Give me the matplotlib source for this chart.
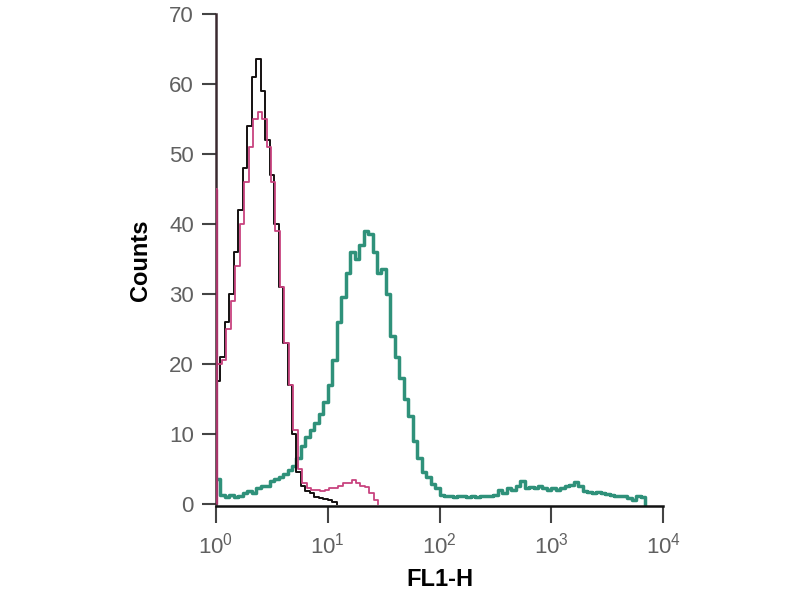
import matplotlib
matplotlib.use("Agg")
import matplotlib.pyplot as plt
import numpy as np

plt.rcParams['font.family'] = ['Liberation Sans', 'DejaVu Sans']
plt.rcParams['mathtext.fontset'] = 'custom'
plt.rcParams['mathtext.rm'] = 'Liberation Sans'

# histogram channels, in decades (log10 of FL1-H)
channel_step = 0.04
decades = [0, 1, 2, 3, 4]
count_ticks = [0, 10, 20, 30, 40, 50, 60, 70]

black_counts = [17.5, 21, 26, 30, 36, 42, 48, 54, 61, 63.5, 59, 52, 47, 40, 31,
                23, 17, 10, 4.5, 2.5, 1.8, 1.5, 0.9, 0.8, 0.7, 0.5, 0.3, 0]

pink_spike = 45
pink_counts = [20, 20.5, 25, 29, 34, 40, 46, 51, 55, 56, 55, 51, 46, 39, 31,
               23, 17, 10.5, 5, 3, 2.3, 2, 2, 1.8, 2, 2.3, 2.3, 2.6, 3, 3,
               3.4, 3, 2.6, 2.4, 1.5, 0.5, 0]

teal_counts = [3.5, 1.2, 1.0, 1.2, 1.0, 1.1, 1.5, 1.8, 1.6, 2.2, 2.6, 2.5, 3.2,
               3.5, 3.8, 4.2, 4.8, 5.4, 6.5, 8.2, 9.5, 10.5, 11.5, 12.8, 14.5,
               17, 20.5, 26, 29.5, 33, 36, 35, 37, 39, 38.5, 36, 33, 33.5, 30,
               24, 21, 18, 15, 12.5, 9, 6.5, 4.5, 3.8, 2.8, 2.2, 1.3, 1.1, 1.1,
               1.0, 1.1, 1.1, 1.0, 1.1, 1.0, 1.1, 1.1, 1.1, 1.2, 2.0, 1.5, 2.2,
               2.0, 2.6, 3.2, 2.2, 2.4, 2.2, 2.5, 2.2, 2.0, 2.2, 1.9, 2.3, 2.6,
               2.7, 3.1, 2.5, 1.8, 1.7, 1.6, 1.7, 1.6, 1.4, 1.2, 1.1, 1.1, 1.1,
               0.8, 0.6, 1.1, 1.0, 0]


def positions(counts):
    return 10 ** (np.arange(len(counts)) * channel_step)


fig = plt.figure(figsize=(8, 6), dpi=100)
ax = fig.add_axes([0.27, 0.157, 0.559, 0.82])

ax.step(positions(teal_counts), teal_counts, where='post',
        color='#2f917a', lw=2.5, zorder=2)
ax.step(positions(black_counts), black_counts, where='post',
        color='#141010', lw=1.4, zorder=3)

pink_x = np.r_[1.0, positions(pink_counts) * 10 ** 0.012]
pink_y = np.r_[pink_spike, pink_counts]
ax.step(pink_x, pink_y, where='post', color='#c8437f', lw=1.3, zorder=4)
ax.vlines(1.0, 0, pink_spike, color='#a8356a', lw=2.4, zorder=4)

ax.set_xscale('log')
ax.set_xlim(1, 1e4)
ax.set_ylim(-0.3, 70)
ax.set_xticks([10 ** d for d in decades])
ax.set_xticklabels([f'$10^{{{d}}}$' for d in decades])
ax.minorticks_off()
ax.set_yticks(count_ticks)

for side in ['top', 'right']:
    ax.spines[side].set_visible(False)
ax.spines['left'].set_color('#3a2a30')
ax.spines['left'].set_linewidth(1.8)
ax.spines['left'].set_bounds(0, 70)
ax.spines['bottom'].set_color('#111111')
ax.spines['bottom'].set_linewidth(1.8)

ax.tick_params(axis='y', length=10, width=1.5, color='#444444', pad=6,
               labelsize=16, labelcolor='#606060')
ax.tick_params(axis='x', length=12, width=1.5, color='#444444', pad=7,
               labelsize=16, labelcolor='#606060')

ax.set_ylabel('Counts', fontsize=17, fontweight='bold', labelpad=12)
ax.set_xlabel('FL1-H', fontsize=17, fontweight='bold', labelpad=7)

fig.savefig('out.png', dpi=100)
